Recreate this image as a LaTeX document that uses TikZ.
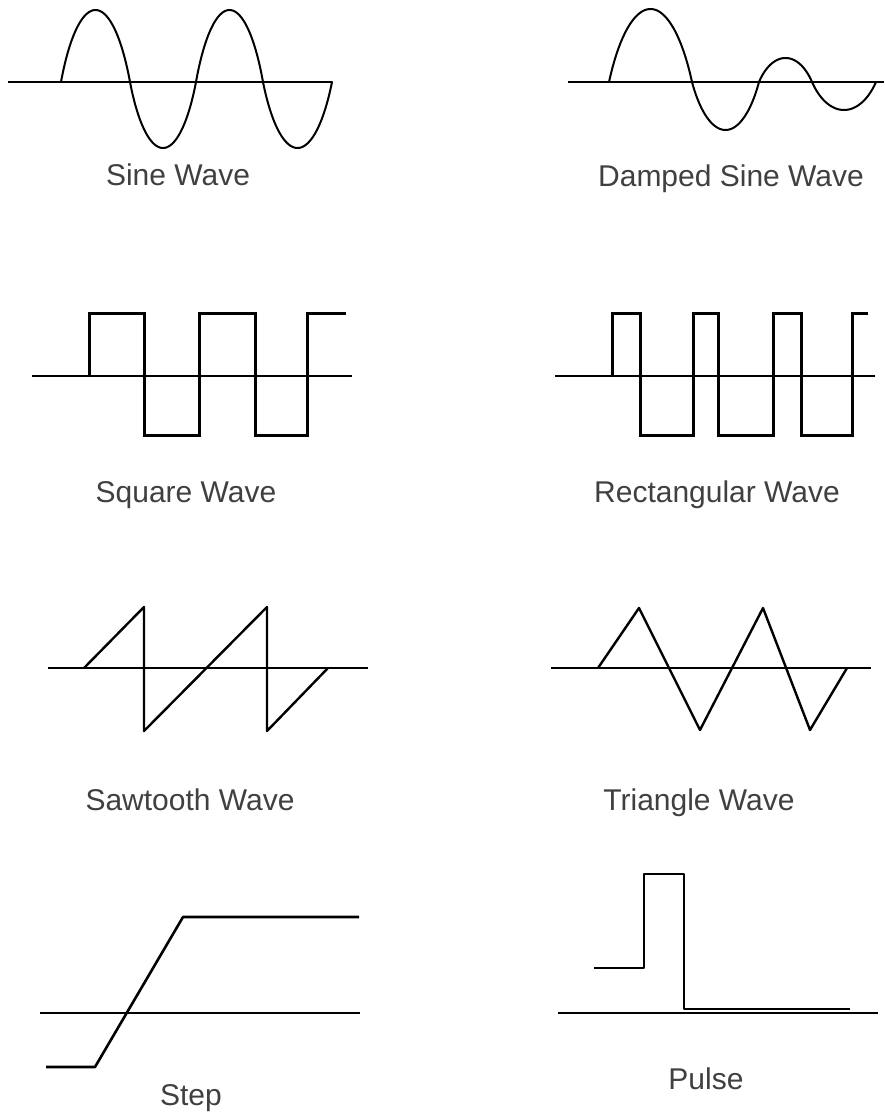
\documentclass[tikz,border=0pt]{standalone}
\usepackage{fontspec}
\setmainfont{Liberation Sans}
% rounded lobe between sine and half-ellipse: start a, width w, signed amplitude h (positive = up)
\newcommand\mylobe[3]{\draw[wave,line cap=round] plot[domain=0:180,samples=70] ({#1+(#2)*(0.6*\x/180+0.4*(1-cos(\x))/2)},{82-(#3)*sin(\x)});}
\begin{document}
\begin{tikzpicture}[x=1pt,y=-1pt,
  axis/.style={line width=1.4pt,black},
  wave/.style={line width=2pt,black,line join=round},
  thick wave/.style={line width=3pt,black,line join=miter},
  lbl/.style={anchor=base,text=black!75,font=\fontsize{30}{36}\selectfont,inner sep=0pt}]
\useasboundingbox[fill=white] (0,0) rectangle (884,1113);
% ---- Sine wave
\draw[axis] (8,82) -- (332,82);
\mylobe{61}{69}{72}
\mylobe{130}{66}{-66}
\mylobe{196}{67}{72}
\mylobe{263}{69}{-66}
\node[lbl] (sine) at (178,185) {Sine Wave};
% ---- Damped sine wave
\draw[axis] (568,82) -- (884,82);
\mylobe{609}{83}{73}
\mylobe{692}{67}{-48}
\mylobe{759}{53}{24}
\mylobe{812}{64}{-28}
\node[lbl] (damped) at (731,186) {Damped Sine Wave};
% ---- Square wave
\draw[axis] (32,376) -- (352,376);
\draw[thick wave] (89,376) |- (144,313) |- (199,435) |- (255,313) |- (307,435) |- (346,313);
\node[lbl] (square) at (186,502) {Square Wave};
% ---- Rectangular wave
\draw[axis] (555,376) -- (875,376);
\draw[thick wave] (612,376) |- (640,313) |- (693,435) |- (718,313) |- (773,435)
  |- (801,313) |- (852,435) |- (868,313);
\node[lbl] (rect) at (717,502) {Rectangular Wave};
% ---- Sawtooth wave
\draw[axis] (48,668) -- (368,668);
\draw[wave,line width=2.4pt] (84,668) -- (144,607) -- (144,731) -- (267,607) -- (267,731) -- (328,668);
\node[lbl] (saw) at (190,810) {Sawtooth Wave};
% ---- Triangle wave
\draw[axis] (551,668) -- (871,668);
\draw[wave,line width=2.4pt] (598,668) -- (639,608) -- (700,730) -- (763,608) -- (810,730) -- (847,668);
\node[lbl] (tri) at (699,810) {Triangle Wave};
% ---- Step
\draw[axis] (40,1013) -- (360,1013);
\draw[wave,line width=2.6pt] (46,1067) -- (95,1067) -- (183,917) -- (359,917);
\node[lbl] (step) at (191,1105) {Step};
% ---- Pulse
\draw[axis] (558,1013) -- (878,1013);
\draw[wave,line width=2.6pt] (594,968) -| (644,874) -| (684,1009) -- (850,1009);
\node[lbl] (pulse) at (706,1089) {Pulse};
\end{tikzpicture}
\end{document}
